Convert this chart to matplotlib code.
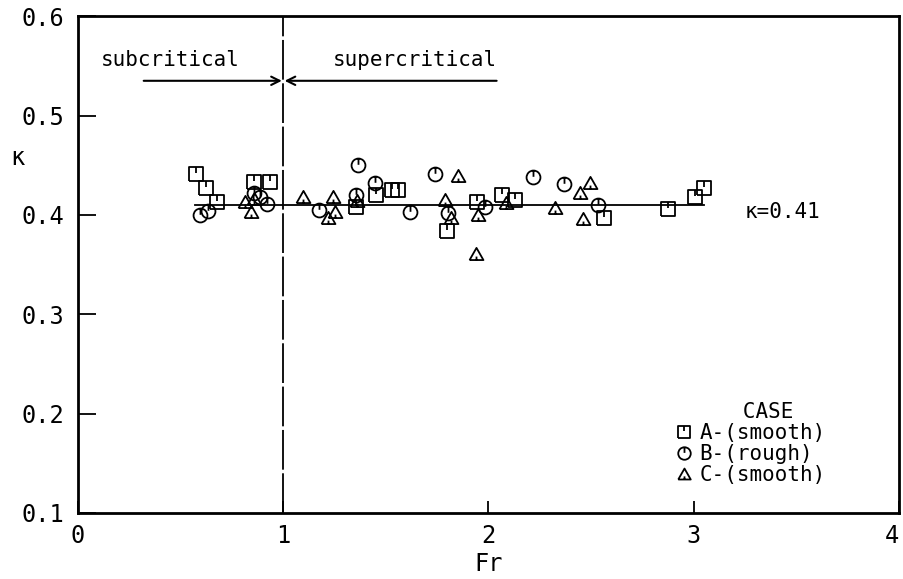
import numpy as np
import matplotlib
matplotlib.use("Agg")
import matplotlib.pyplot as plt
from matplotlib.path import Path

plt.rcParams['font.family'] = ['DejaVu Sans Mono']

# case A (smooth), squares
a_fr = [0.575, 0.622, 0.676, 0.858, 0.935, 1.355, 1.452, 1.528, 1.56, 1.80,
        1.942, 2.064, 2.13, 2.563, 2.876, 3.006, 3.05]
a_k = [0.441, 0.4275, 0.413, 0.4335, 0.4335, 0.408, 0.420, 0.425, 0.425, 0.384,
       0.413, 0.42, 0.415, 0.397, 0.406, 0.418, 0.427]
# case B (rough), circles
b_fr = [0.594, 0.633, 0.86, 0.885, 0.919, 1.176, 1.366, 1.355, 1.447, 1.617,
        1.739, 1.804, 1.983, 2.218, 2.368, 2.535]
b_k = [0.400, 0.404, 0.422, 0.418, 0.411, 0.405, 0.450, 0.420, 0.432, 0.403,
       0.441, 0.402, 0.408, 0.4386, 0.431, 0.410]
# case C (smooth), triangles
c_fr = [0.814, 0.843, 0.86, 1.095, 1.22, 1.252, 1.243, 1.36, 1.788, 1.816,
        1.852, 1.939, 1.950, 2.088, 2.324, 2.446, 2.494, 2.462]
c_k = [0.413, 0.403, 0.416, 0.418, 0.397, 0.403, 0.418, 0.414, 0.415, 0.397,
       0.439, 0.361, 0.400, 0.412, 0.407, 0.422, 0.432, 0.396]

kappa = 0.41
kappa_fr = [0.57, 3.05]
fr_crit = 1.0
xticks = [0, 1, 2, 3, 4]
yticks = [0.1, 0.2, 0.3, 0.4, 0.5, 0.6]

M, L = Path.MOVETO, Path.LINETO
sq = Path([[-1, -1], [1, -1], [1, 1], [-1, 1], [-1, -1], [0, 1], [0, 0.2]],
          [M, L, L, L, L, M, L])
circ = Path.make_compound_path(Path.unit_circle(),
                               Path([[0, 1], [0, 0.1]], [M, L]))
tri = Path([[-1, -0.8], [1, -0.8], [0, 0.95], [-1, -0.8], [0, -0.8], [0, -0.3]],
           [M, L, L, L, M, L])

fig = plt.figure(figsize=(9.04, 5.79), dpi=100)
ax = fig.add_axes([0.0863, 0.114, 0.908, 0.858])

mk = dict(linestyle='none', mfc='none', mec='k', mew=1.3, ms=10)
ax.plot(a_fr, a_k, marker=sq, label='A-(smooth)', **mk)
ax.plot(b_fr, b_k, marker=circ, label='B-(rough)', **mk)
ax.plot(c_fr, c_k, marker=tri, label='C-(smooth)', **mk)

ax.plot(kappa_fr, [kappa, kappa], color='k', lw=1.3)
ax.axvline(fr_crit, color='k', lw=1.3, linestyle=(0, (22, 2)))
ax.text(3.25, 0.403, 'κ=0.41', fontsize=15, va='center', ha='left')

ax.annotate('', xy=(fr_crit, 0.535), xytext=(0.32, 0.535),
            arrowprops=dict(arrowstyle='->,head_length=0.6,head_width=0.3', lw=1.5, color='k',
                            shrinkA=0, shrinkB=1))
ax.annotate('', xy=(fr_crit, 0.535), xytext=(2.04, 0.535),
            arrowprops=dict(arrowstyle='->,head_length=0.6,head_width=0.3', lw=1.5, color='k',
                            shrinkA=0, shrinkB=1))
ax.text(0.45, 0.556, 'subcritical', fontsize=15, ha='center', va='center')
ax.text(1.64, 0.556, 'supercritical', fontsize=15, ha='center', va='center')

ax.set_xlim(0, 4)
ax.set_ylim(0.1, 0.6)
ax.set_xticks(xticks)
ax.set_yticks(yticks)
ax.set_xticklabels([str(t) for t in xticks])
ax.set_yticklabels(['%.1f' % t for t in yticks])
ax.tick_params(direction='in', width=1.3, labelsize=17)
ax.tick_params(axis='y', length=13, pad=10)
ax.tick_params(axis='x', length=9, pad=8)
ax.get_xticklabels()[-1].set_horizontalalignment('right')
for s in ax.spines.values():
    s.set_linewidth(2)

ax.set_xlabel('Fr', fontsize=17, labelpad=3)
ax.set_ylabel('κ', fontsize=17, rotation=0)
ax.yaxis.set_label_coords(-0.074, 0.69)

leg = ax.legend(loc='upper left', bbox_to_anchor=(0.715, 0.24), frameon=False,
                title='   CASE', fontsize=15, title_fontsize=15, handletextpad=0.25,
                handlelength=1.0, labelspacing=0.05, borderaxespad=0, markerscale=0.9)

fig.savefig('out.png', dpi=100)
